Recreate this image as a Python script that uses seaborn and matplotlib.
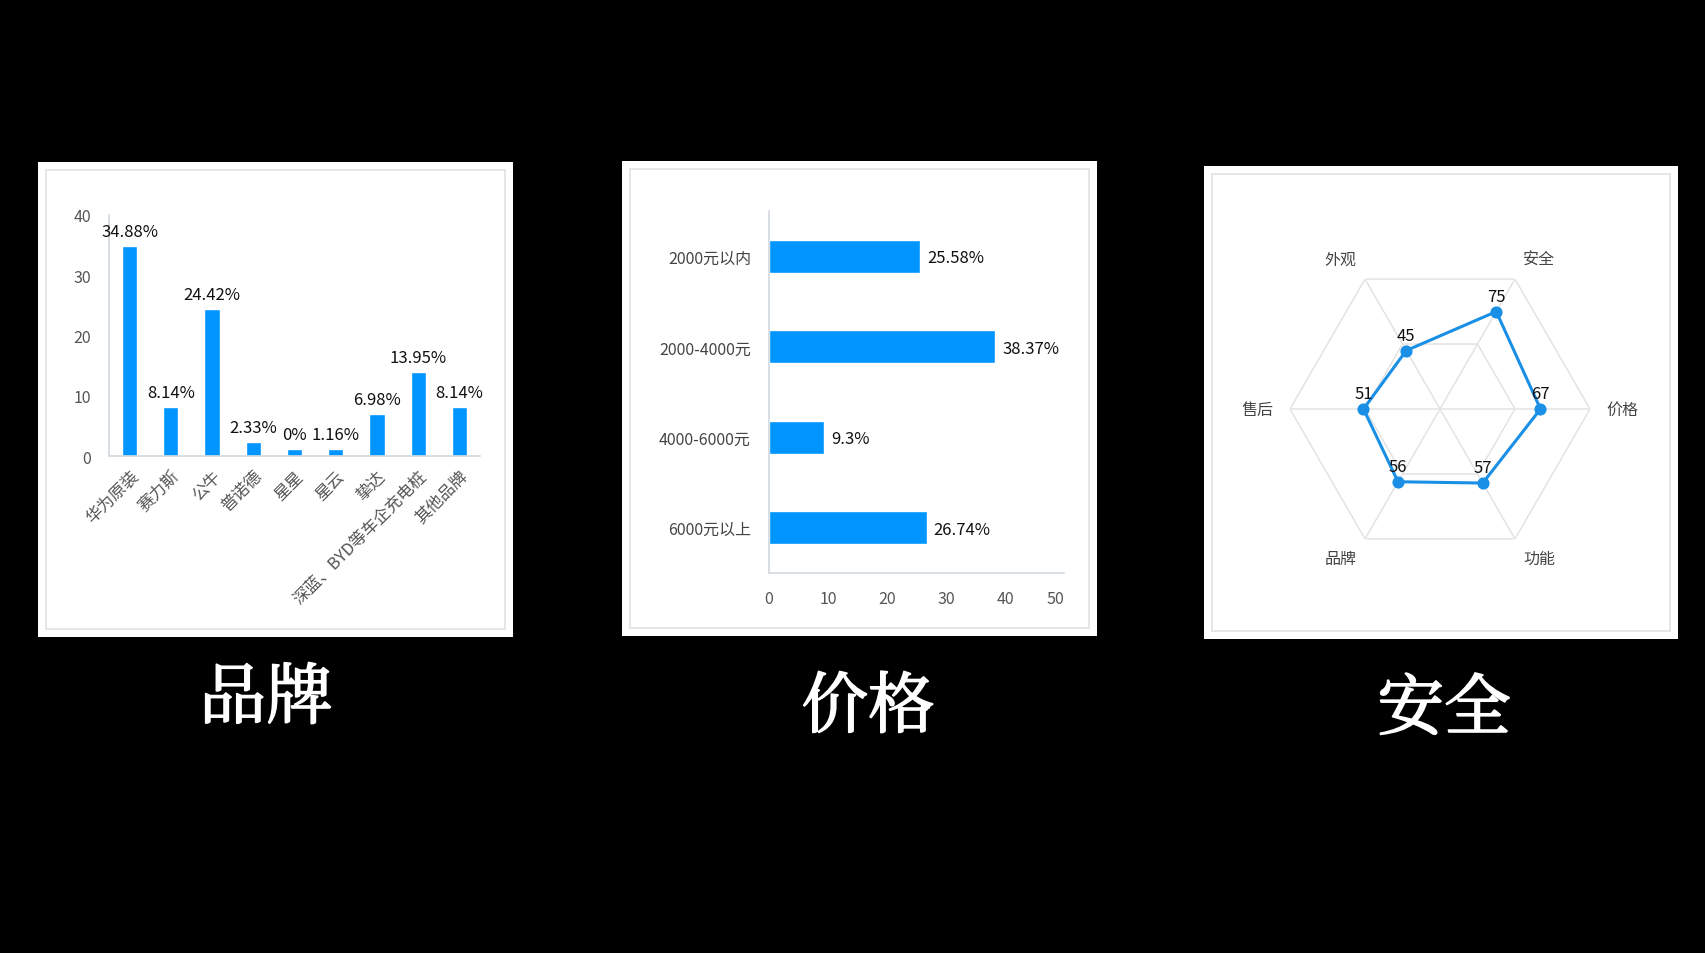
import numpy as np
import matplotlib
matplotlib.use('Agg')
import matplotlib.pyplot as plt
import matplotlib.patheffects as pe
from matplotlib.patches import Rectangle
import seaborn as sns

# data
brands = ['华为原装', '赛力斯', '公牛', '普诺德', '星星', '星云', '挚达', '深蓝、BYD等车企充电桩', '其他品牌']
brand_share = [34.88, 8.14, 24.42, 2.33, 1.16, 1.16, 6.98, 13.95, 8.14]
brand_text = ['34.88%', '8.14%', '24.42%', '2.33%', '0%', '1.16%', '6.98%', '13.95%', '8.14%']

price_ranges = ['2000元以内', '2000-4000元', '4000-6000元', '6000元以上']
price_share = [25.58, 38.37, 9.3, 26.74]
price_text = ['25.58%', '38.37%', '9.3%', '26.74%']

radar_axes = ['安全', '价格', '功能', '品牌', '售后', '外观']
radar_scores = [75, 67, 57, 56, 51, 45]

titles = ['品牌', '价格', '安全']

sns.set_theme(style='white')
plt.rcParams['font.family'] = ['Noto Sans CJK SC', 'DejaVu Sans']

BLUE = '#0095ff'
LINE_BLUE = '#1a8fe6'
AXIS_C = '#d3d9e1'
GRID_C = '#e3e3e3'
TICK_C = '#555555'

W, H = 1706, 954
fig = plt.figure(figsize=(W / 100, H / 100), dpi=100, facecolor='black')


def px_box(left, top, right, bottom):
    return [left / W, 1 - bottom / H, (right - left) / W, (bottom - top) / H]


def panel(left, top, right, bottom, inset=8):
    fig.patches.append(Rectangle((left / W, 1 - bottom / H), (right - left) / W, (bottom - top) / H,
                                 transform=fig.transFigure, facecolor='white', edgecolor='none', zorder=-2))
    fig.patches.append(Rectangle(((left + inset) / W, 1 - (bottom - inset) / H),
                                 (right - left - 2 * inset) / W, (bottom - top - 2 * inset) / H,
                                 transform=fig.transFigure, facecolor='none', edgecolor='#e2e2e2',
                                 linewidth=1.2, zorder=-1))


panel(38, 163, 513, 638)
panel(622, 162, 1097, 637)
panel(1204, 167, 1678, 640)

# --- brand bar chart ---
ax1 = fig.add_axes(px_box(109, 216, 480, 457))
sns.barplot(x=brands, y=brand_share, color=BLUE, width=0.37, saturation=1, ax=ax1)
ax1.set_ylim(0, 40)
ax1.set_yticks([0, 10, 20, 30, 40])
ax1.set_facecolor('none')
for s in ['top', 'right']:
    ax1.spines[s].set_visible(False)
for s in ['left', 'bottom']:
    ax1.spines[s].set_color(AXIS_C)
    ax1.spines[s].set_linewidth(1.2)
ax1.tick_params(axis='y', length=0, pad=13, labelsize=11.5, labelcolor=TICK_C)
ax1.tick_params(axis='x', length=0, pad=8, labelsize=12, labelcolor=TICK_C)
for lab in ax1.get_xticklabels():
    lab.set_rotation(45)
    lab.set_ha('right')
    lab.set_va('top')
    lab.set_rotation_mode('anchor')
for i, (v, t) in enumerate(zip(brand_share, brand_text)):
    ax1.annotate(t, (i, v), xytext=(0, 4), textcoords='offset points',
                 ha='center', va='bottom', fontsize=12, color='#111111')
ax1.set_xlabel('')
ax1.set_ylabel('')

# --- price horizontal bar chart ---
ax2 = fig.add_axes(px_box(769, 212, 1064, 574))
sns.barplot(x=price_share, y=price_ranges, orient='h', color=BLUE, width=0.37, saturation=1, ax=ax2)
ax2.set_xlim(0, 50)
ax2.set_xticks([0, 10, 20, 30, 40, 50])
ax2.set_facecolor('none')
for s in ['top', 'right']:
    ax2.spines[s].set_visible(False)
for s in ['left', 'bottom']:
    ax2.spines[s].set_color(AXIS_C)
    ax2.spines[s].set_linewidth(1.2)
ax2.tick_params(axis='x', length=0, pad=12, labelsize=11.5, labelcolor=TICK_C)
ax2.tick_params(axis='y', length=0, pad=13, labelsize=11.5, labelcolor='#444444')
ax2.get_xticklabels()[-1].set_ha('right')
for i, (v, t) in enumerate(zip(price_share, price_text)):
    ax2.annotate(t, (v, i), xytext=(5, -1), textcoords='offset points',
                 ha='left', va='center', fontsize=12, color='#111111')
ax2.set_xlabel('')
ax2.set_ylabel('')

# --- safety radar ---
ax3 = fig.add_axes(px_box(1290, 260, 1590, 560), projection='polar')
ax3.set_theta_offset(np.pi / 3)
ax3.set_theta_direction(-1)
ax3.set_ylim(0, 100)
ax3.grid(False)
ax3.spines['polar'].set_visible(False)
ax3.set_xticks([])
ax3.set_yticks([])
ax3.set_facecolor('none')

angles = np.linspace(0, 2 * np.pi, len(radar_axes), endpoint=False)
closed = np.append(angles, angles[0])
for level in [50, 100]:
    ax3.plot(closed, [level] * len(closed), color=GRID_C, linewidth=1.1, zorder=1)
for a in angles:
    ax3.plot([a, a], [0, 100], color=GRID_C, linewidth=1.1, zorder=1)

scores_closed = radar_scores + radar_scores[:1]
ax3.plot(closed, scores_closed, color=LINE_BLUE, linewidth=2.2, zorder=3)
ax3.scatter(angles, radar_scores, s=60, color=LINE_BLUE, zorder=4)
for a, v in zip(angles, radar_scores):
    ax3.annotate(str(v), (a, v), xytext=(0, 5), textcoords='offset points',
                 ha='center', va='bottom', fontsize=12, color='#111111', zorder=5)
for a, name in zip(angles, radar_axes):
    c = np.cos(np.pi / 3 - a)
    s = np.sin(np.pi / 3 - a)
    ha = 'left' if c > 0.01 else ('right' if c < -0.01 else 'center')
    ax3.annotate(name, (a, 111), xytext=(0, 4 * np.sign(round(s, 3))), textcoords='offset points',
                 ha=ha, va='center', fontsize=11.5, color='#444444', annotation_clip=False)

# --- white titles below the panels ---
title_font = ['Noto Serif CJK SC', 'Noto Sans CJK SC', 'DejaVu Sans']
for (x, y), t in zip([(266, 701), (868, 710), (1444, 712)], titles):
    fig.text(x / W, 1 - y / H, t, ha='center', va='center', fontsize=48,
             color='white', family=title_font,
             path_effects=[pe.withStroke(linewidth=1.2, foreground='white')])

fig.savefig('out.png', dpi=100, facecolor='black')
